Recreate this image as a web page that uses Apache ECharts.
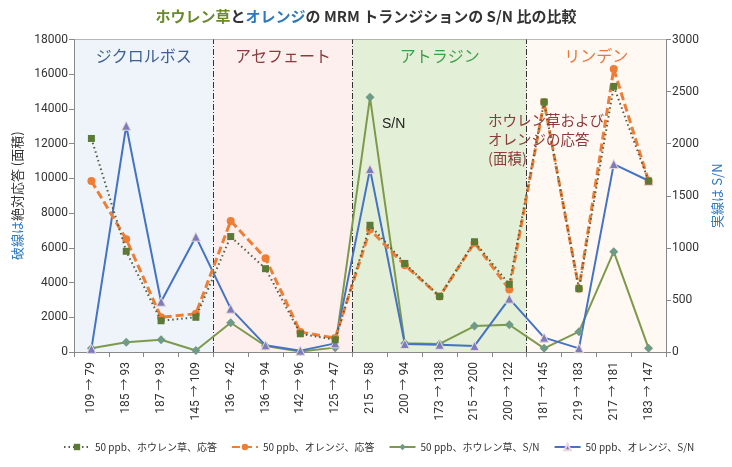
<!DOCTYPE html>
<html><head><meta charset="utf-8">
<script src="https://cdn.jsdelivr.net/npm/echarts@6/dist/echarts.min.js"></script>
<style>html,body{margin:0;padding:0;background:#fff}#c{width:732px;height:467px}</style>
</head><body><div id="c"></div>
<script>
const categories = ['109 → 79','185 → 93','187 → 93','145 → 109','136 → 42','136 → 94','142 → 96','125 → 47','215 → 58','200 → 94','173 → 138','215 → 200','200 → 122','181 → 145','219 → 183','217 → 181','183 → 147'];
const spinachResp = [12300,5800,1800,2000,6650,4800,1050,700,7300,5100,3200,6350,3900,14400,3650,15300,9850];
const orangeResp  = [9850,6500,2000,2200,7550,5400,1150,800,7050,5000,3200,6300,3600,14400,3650,16300,9850];
const spinachSN   = [35,93,118,15,281,58,5,42,2445,83,77,249,262,35,195,963,35];
const orangeSN    = [30,2172,483,1107,416,64,13,83,1756,77,70,58,512,138,35,1804,1644];
const groups = [
  {name:'ジクロルボス', from:0, to:4, bg:'#eef4fa', color:'#3f5f8f'},
  {name:'アセフェート', from:4, to:8, bg:'#fcefee', color:'#8c3a3a'},
  {name:'アトラジン', from:8, to:13, bg:'#e3efd6', color:'#3fa04a'},
  {name:'リンデン', from:13, to:17, bg:'#fff8f3', color:'#e8773e'}
];
const leftTicks = {min:0, max:18000, interval:2000};
const rightTicks = {min:0, max:3000, interval:500};
const seriesNames = ['50 ppb、ホウレン草、応答','50 ppb、オレンジ、応答','50 ppb、ホウレン草、S/N','50 ppb、オレンジ、S/N'];

const numFont = '"Liberation Sans Narrow","Roboto","Noto Sans CJK JP",sans-serif';
const jpFont = '"Noto Sans CJK JP",sans-serif';
const plain = v => String(v);
const chart = echarts.init(document.getElementById('c'));
chart.setOption({
  animation:false,
  backgroundColor:'#fff',
  title:[
    {text:'{g|ホウレン草}{k|と}{b|オレンジ}{k|の MRM トランジションの S/N 比の比較}', left:'center', top:4,
     textStyle:{rich:{
       g:{color:'#6b8a2a',fontSize:15,fontWeight:'bold',fontFamily:jpFont},
       b:{color:'#2e78c0',fontSize:15,fontWeight:'bold',fontFamily:jpFont},
       k:{color:'#333',fontSize:15,fontWeight:'bold',fontFamily:jpFont}}}},
    {text:'S/N', left:377, top:112, textStyle:{color:'#222',fontSize:14,fontWeight:'normal',fontFamily:'"Liberation Sans",sans-serif'}},
    {text:'ホウレン草および\nオレンジの応答\n(面積)', left:483, top:106, textStyle:{color:'#8c3a3a',fontSize:14.5,fontWeight:'normal',lineHeight:19,fontFamily:jpFont}}
  ],
  legend:{
    bottom:10, left:58, itemGap:14, itemWidth:26, itemHeight:8,
    data:seriesNames,
    textStyle:{fontSize:10,color:'#333',fontFamily:jpFont}
  },
  grid:{left:74, right:63, top:39.5, bottom:115, containLabel:false},
  xAxis:[
    {type:'category', data:categories, boundaryGap:true,
     axisLine:{show:true,lineStyle:{color:'#888'}},
     axisTick:{show:true,interval:0,length:5,lineStyle:{color:'#888'}},
     axisLabel:{interval:0, rotate:90, align:'right', verticalAlign:'middle', margin:10, color:'#333', fontSize:12, fontFamily:numFont},
     splitLine:{show:false}},
    {type:'value', min:0, max:categories.length, show:false}
  ],
  yAxis:[
    {type:'value', min:leftTicks.min, max:leftTicks.max, interval:leftTicks.interval, position:'left',
     name:'{b|破線は}{k|絶対応答 (面積)}', nameLocation:'middle', nameRotate:90, nameGap:50,
     nameTextStyle:{rich:{b:{color:'#2e78c0',fontSize:13,fontFamily:jpFont},k:{color:'#333',fontSize:13,fontFamily:jpFont}}},
     axisLine:{show:true,lineStyle:{color:'#888'}},
     axisTick:{show:true,length:5,lineStyle:{color:'#888'}},
     axisLabel:{color:'#333',fontSize:12,margin:6,fontFamily:numFont,formatter:plain},
     splitLine:{show:true,lineStyle:{color:'#7a7a7a',width:1}}},
    {type:'value', min:rightTicks.min, max:rightTicks.max, interval:rightTicks.interval, position:'right',
     name:'{b|実線は} {k|S/N}', nameLocation:'middle', nameRotate:90, nameGap:45,
     nameTextStyle:{rich:{b:{color:'#2e78c0',fontSize:13,fontFamily:jpFont},k:{color:'#2e78c0',fontSize:13,fontFamily:jpFont}}},
     axisLine:{show:true,lineStyle:{color:'#888'}},
     axisTick:{show:true,length:5,lineStyle:{color:'#888'}},
     axisLabel:{color:'#333',fontSize:12,margin:6,fontFamily:numFont,formatter:plain},
     splitLine:{show:false}}
  ],
  series:[
    {type:'line', xAxisIndex:1, yAxisIndex:0, data:[], silent:true, z:0,
     markArea:{silent:true, z:0,
       data: groups.map(g=>[
         {xAxis:g.from, yAxis:leftTicks.max, itemStyle:{color:g.bg},
          label:{show:true, position:'insideTop', distance:8, formatter:g.name, color:g.color, fontSize:16, fontFamily:jpFont}},
         {xAxis:g.to, yAxis:leftTicks.min}])},
     markLine:{silent:true, symbol:'none', z:1,
       lineStyle:{color:'#333', type:[6,2,1,2], width:1},
       label:{show:false},
       data: groups.slice(1).map(g=>({xAxis:g.from}))}
    },
    {name:seriesNames[0], type:'line', xAxisIndex:0, yAxisIndex:0, data:spinachResp, z:5,
     symbol:'rect', symbolSize:7, itemStyle:{color:'#5a7a35'},
     lineStyle:{color:'#4f5f40', width:2, type:[1.5,3]}},
    {name:seriesNames[1], type:'line', xAxisIndex:0, yAxisIndex:0, data:orangeResp, z:4,
     symbol:'circle', symbolSize:8, itemStyle:{color:'#ee7d35'},
     lineStyle:{color:'#ee7d35', width:3, type:[8,4]}},
    {name:seriesNames[2], type:'line', xAxisIndex:0, yAxisIndex:1, data:spinachSN, z:3,
     symbol:'diamond', symbolSize:9, itemStyle:{color:'#6e9a86'},
     lineStyle:{color:'#7d9a4c', width:2}},
    {name:seriesNames[3], type:'line', xAxisIndex:0, yAxisIndex:1, data:orangeSN, z:3,
     symbol:'triangle', symbolSize:9, itemStyle:{color:'#7c7cbd', borderColor:'#e8d8d8', borderWidth:1},
     lineStyle:{color:'#4472c4', width:2}}
  ]
});
</script></body></html>
